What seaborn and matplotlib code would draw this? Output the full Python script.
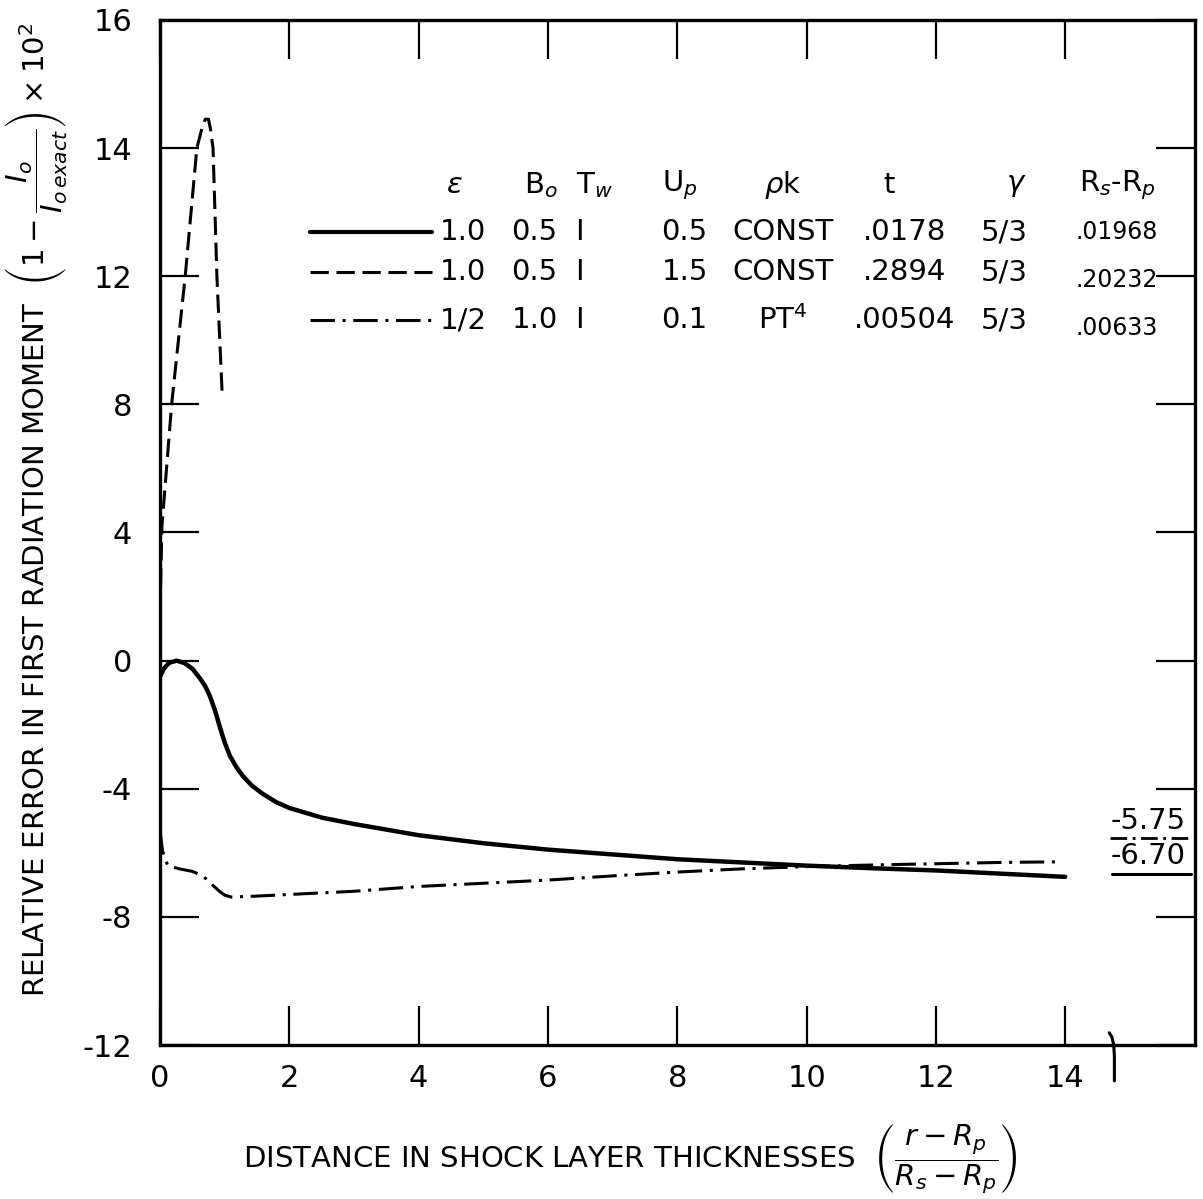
import numpy as np
import pandas as pd
import matplotlib
matplotlib.use('Agg')
import matplotlib.pyplot as plt
from matplotlib.lines import Line2D
import seaborn as sns

# ── DATA ─────────────────────────────────────────────────────────────────────
solid_x = [0.0, 0.06, 0.14, 0.26, 0.38, 0.5, 0.62, 0.7, 0.77, 0.85, 0.93, 1.0,
           1.08, 1.18, 1.28, 1.42, 1.59, 1.8, 2.0, 2.5, 3.0, 4.0, 5.0, 6.0,
           7.0, 8.0, 9.0, 10.0, 11.0, 12.0, 13.0, 14.0]
solid_y = [-0.5, -0.25, -0.07, 0.0, -0.08, -0.25, -0.56, -0.8, -1.1, -1.55,
           -2.1, -2.55, -2.97, -3.32, -3.6, -3.9, -4.16, -4.42, -4.6, -4.9,
           -5.1, -5.45, -5.7, -5.9, -6.05, -6.2, -6.3, -6.4, -6.48, -6.55,
           -6.65, -6.75]

dashed_x = [0.0, 0.03, 0.18, 0.39, 0.57, 0.66, 0.70, 0.75, 0.78, 0.82, 0.88, 0.96]
dashed_y = [1.5, 4.2, 8.0, 12.0, 14.0, 14.35, 14.45, 14.45, 14.3, 14.0, 12.0, 8.4]

dashdot_x = [0.0, 0.04, 0.12, 0.3, 0.5, 0.62, 0.72, 0.82, 0.92, 1.0, 1.1, 1.5,
             2.0, 3.0, 4.0, 5.0, 6.0, 7.0, 8.0, 9.0, 10.0, 11.0, 12.0, 13.0, 13.9]
dashdot_y = [-5.3, -5.95, -6.4, -6.5, -6.58, -6.68, -6.82, -7.02, -7.2, -7.32,
             -7.38, -7.35, -7.3, -7.2, -7.05, -6.95, -6.85, -6.72, -6.6, -6.5,
             -6.43, -6.38, -6.34, -6.3, -6.28]

x_ticks = [0, 2, 4, 6, 8, 10, 12, 14]
y_ticks = [-12, -8, -4, 0, 4, 8, 12, 14, 16]
y_tick_labels = ["-12", "-8", "-4", "0", "4", "8", "12", "14", "16"]

# legend table
col_headers = [r"$\epsilon$", r"B$_o$", r"T$_w$", r"U$_p$", r"$\rho$k", "t",
               r"$\gamma$", r"R$_s$-R$_p$"]
rows = [
    ["1.0", "0.5", "I", "0.5", "CONST", ".0178", "5/3", ".01968"],
    ["1.0", "0.5", "I", "1.5", "CONST", ".2894", "5/3", ".20232"],
    ["1/2", "1.0", "I", "0.1", r"PT$^4$", ".00504", "5/3", ".00633"],
]
end_labels = ["-5.75", "-6.70"]

# ── STYLE ────────────────────────────────────────────────────────────────────
sns.set_style("ticks")
plt.rcParams['font.family'] = ['DejaVu Sans']
plt.rcParams['mathtext.fontset'] = 'dejavusans'
plt.rcParams['text.color'] = 'black'
plt.rcParams['axes.labelcolor'] = 'black'
plt.rcParams['xtick.color'] = 'black'
plt.rcParams['ytick.color'] = 'black'

DASH = (0, (6, 2.5))
DASHDOT = (0, (8, 2.5, 1, 2.5))


# upper part of the y axis is compressed (16,14,12 are evenly spaced with 8,4..)
def fwd(v):
    v = np.asarray(v, dtype=float)
    return np.where(v > 12, 12 + (v - 12) * 2, v)


def inv(p):
    p = np.asarray(p, dtype=float)
    return np.where(p > 12, 12 + (p - 12) / 2, p)


fig = plt.figure(figsize=(12.03, 11.99), dpi=100)
ax = fig.add_axes([0.133, 0.1284, 0.860, 0.855])
ax.set_yscale('function', functions=(fwd, inv))

df_s = pd.DataFrame({"x": solid_x, "y": solid_y})
df_d = pd.DataFrame({"x": dashed_x, "y": dashed_y})
df_dd = pd.DataFrame({"x": dashdot_x, "y": dashdot_y})

sns.lineplot(data=df_s, x="x", y="y", ax=ax, color="black", lw=3.2,
             sort=False, estimator=None)
sns.lineplot(data=df_d, x="x", y="y", ax=ax, color="black", lw=2.2,
             linestyle=DASH, sort=False, estimator=None)
sns.lineplot(data=df_dd, x="x", y="y", ax=ax, color="black", lw=2.2,
             linestyle=DASHDOT, sort=False, estimator=None)

ax.set_xlim(0, 16)
ax.set_ylim(-12, 16)
ax.set_xticks(x_ticks)
ax.set_xticklabels([str(t) for t in x_ticks])
ax.set_yticks(y_ticks)
ax.set_yticklabels(y_tick_labels)
ax.tick_params(axis='both', direction='in', length=28, width=1.6,
               labelsize=22, colors='black', top=True, right=True)
ax.tick_params(axis='y', pad=20)
ax.tick_params(axis='x', pad=14)
for s in ax.spines.values():
    s.set_linewidth(2.4)
    s.set_color('black')

ax.set_xlabel(r"DISTANCE IN SHOCK LAYER THICKNESSES  $\left(\dfrac{r-R_p}{R_s-R_p}\right)$",
              fontsize=21)
ax.set_ylabel(r"RELATIVE ERROR IN FIRST RADIATION MOMENT  "
              r"$\left(1-\dfrac{I_o}{I_{o\,exact}}\right)\times10^2$",
              fontsize=21)
ax.xaxis.set_label_coords(0.455, -0.075)
ax.yaxis.set_label_coords(-0.088, 0.522)

# axis break on the x axis near 14.75
bx = ax.get_xaxis_transform()
ax.plot([14.68, 14.72, 14.75, 14.76, 14.76], [0.012, 0.008, 0.0, -0.012, -0.035],
        transform=bx, color='black', lw=2.2, clip_on=False)

# ── LEGEND TABLE ─────────────────────────────────────────────────────────────
at = ax.transAxes
head_y = 0.839
row_y = [0.793, 0.754, 0.707]
col_x = [0.293, 0.362, 0.405, 0.507, 0.602, 0.72, 0.816, 0.925]
head_x = [0.285, 0.368, 0.420, 0.502, 0.602, 0.705, 0.828, 0.925]
styles = ['-', DASH, DASHDOT]
widths = [3.0, 2.2, 2.2]

for hx, h in zip(head_x, col_headers):
    ax.text(hx, head_y, h, transform=at, ha='center', va='center', fontsize=21)

for ry, vals, ls, w in zip(row_y, rows, styles, widths):
    ax.add_line(Line2D([0.145, 0.263], [ry, ry], transform=at, color='black',
                       lw=w, linestyle=ls))
    for j, (cx, v) in enumerate(zip(col_x, vals)):
        fs = 17 if j == 7 else 21
        dy = -0.008 if j == 7 and ry != row_y[0] else 0
        ax.text(cx, ry + dy, v, transform=at, ha='center', va='center',
                fontsize=fs)

# end values to the right of the break
ax.text(0.955, 0.219, end_labels[0], transform=at, ha='center', va='center',
        fontsize=21)
ax.text(0.955, 0.184, end_labels[1], transform=at, ha='center', va='center',
        fontsize=21)
ax.add_line(Line2D([0.918, 0.995], [0.202, 0.202], transform=at,
                   color='black', lw=2.0, linestyle=(0, (6, 2, 1, 2))))
ax.add_line(Line2D([0.920, 0.997], [0.167, 0.167], transform=at,
                   color='black', lw=2.2))

fig.savefig("out.png", dpi=100)
